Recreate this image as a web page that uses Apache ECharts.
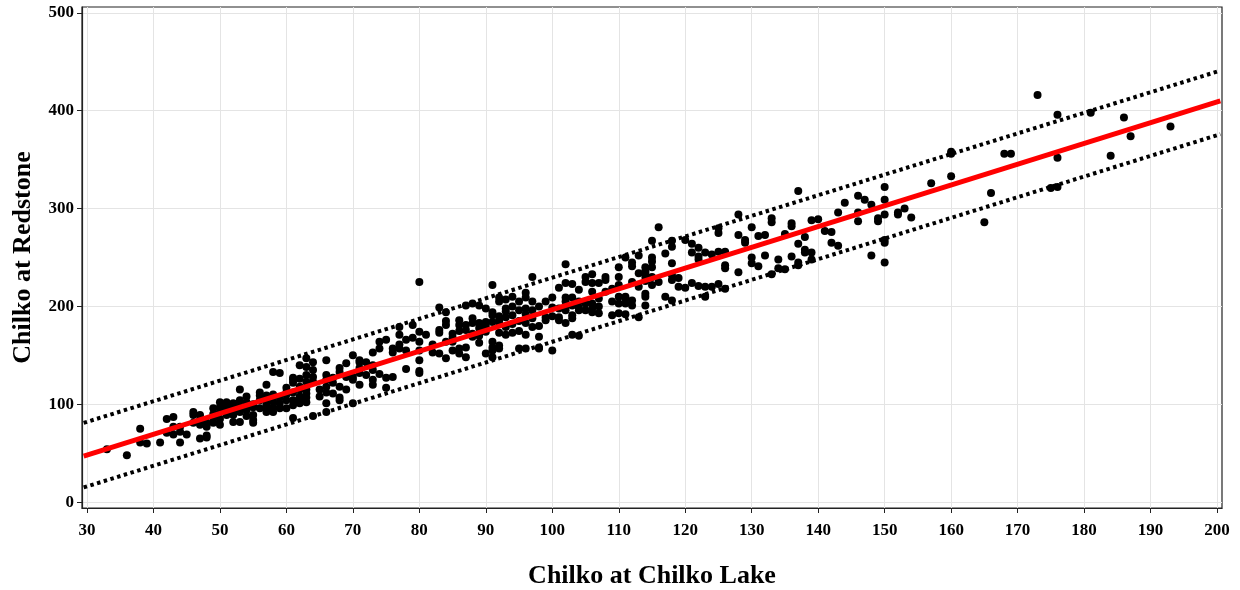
<!DOCTYPE html>
<html>
<head>
<meta charset="utf-8">
<script src="https://cdn.jsdelivr.net/npm/echarts@6/dist/echarts.min.js"></script>
<style>
  html, body { margin: 0; padding: 0; background: #fff; }
  #chart { width: 1240px; height: 590px; }
</style>
</head>
<body>
<div id="chart"></div>
<script>
// observed pairs: [Chilko at Chilko Lake, Chilko at Redstone]
const points = [
  [33,54],[36,48],[38,75],[38,61],[39,60],[41,61],[42,85],[43,87],[43,77],[42,71],[43,69],[44,72],
  [44,61],[44,77],[45,69],[46,92],[46,81],[47,65],[46,89],[47,84],[48,66],[48,68],
  [58,133],[59,132],[61,125],[61,122],[57,120],[53,115],[56,112],[56,109],[60,117],[60,112],[57,109],
  [57,106],[50,102],[51,102],[52,101],[53,104],[54,102],[49,96],[50,97],[50,92],[51,89],[52,89],
  [52,91],[54,96],[54,94],[55,97],[56,96],[57,96],[55,89],[55,84],[58,97],[61,104],[61,99],[53,82],
  [52,82],[49,81],[50,79],[48,81],[48,77],[55,81],[47,89],[61,86],[58,92],[59,96],
  [49,86],[51,95],[53,92],[54,88],[57,100],[58,103],[59,107],[60,110],[55,100],[52,96],[50,85],
  [57,92],[60,96],[62,108],[62,101],
  [60,104],[61,112],[62,115],[62,126],[63,130],[59,101],[58,110],[56,104],[54,108],[53,98],[51,98],
  [49,90],[47,79],
  [70,150],[74,164],[74,157],[75,166],[76,157],[76,153],[73,153],[66,145],[62,140],[63,138],[64,135],
  [69,142],[68,137],[71,143],[71,145],[72,143],[73,140],[73,135],[71,137],[71,132],[61,127],[63,123],
  [64,123],[66,130],[66,125],[67,127],[68,133],[70,128],[70,125],[71,120],[73,125],[73,120],[75,127],
  [76,128],[75,117],[68,118],[69,115],[66,118],[66,112],[67,111],[62,118],[63,115],[63,111],[63,107],
  [63,102],[68,107],[68,104],[70,101],[66,101],[62,104],[64,88],[66,92],
  [65,108],[67,122],[69,128],[72,130],[74,131],[65,115],[64,128],[63,147],[64,143],
  [80,225],[91,222],[83,199],[84,194],[87,201],[88,203],[89,201],[90,198],[91,194],[91,191],[91,184],
  [84,185],[84,181],[86,186],[86,181],[88,188],[88,183],[87,181],[87,176],[89,183],[89,178],[90,184],
  [90,174],[77,179],[79,181],[80,174],[83,176],[83,173],[81,171],[77,171],[78,166],[77,161],[79,168],
  [80,164],[82,161],[84,164],[85,168],[85,164],[86,157],[87,158],[88,169],[89,163],[91,164],[91,158],
  [91,155],[90,152],[91,148],[78,155],[77,157],[80,155],[80,145],[82,153],[83,152],[84,147],[85,155],
  [86,152],[87,148],[78,136],[80,134],[80,132],
  [85,172],[86,175],[88,172],[89,170],[90,180],[92,190],[93,195],[94,200],[95,205],[95,185],[94,182],
  [97,196],[98,200],[99,205],[100,190],[101,198],[98,180],[97,188],[95,175],[96,192],
  [102,243],[97,230],[106,233],[105,230],[103,223],[102,224],[101,219],[104,217],[105,225],[106,224],
  [94,210],[93,207],[96,214],[96,209],[97,205],[92,209],[92,205],[102,209],[102,205],[102,200],[102,196],
  [103,209],[103,201],[104,205],[104,199],[104,196],[105,203],[105,196],[106,203],[106,198],[106,194],
  [100,209],[100,199],[93,198],[95,196],[96,198],[93,189],[94,191],[92,186],[92,184],[99,189],[99,186],
  [101,189],[101,186],[102,183],[103,188],[103,191],[96,183],[97,179],[93,179],[94,173],[93,171],
  [92,173],[96,171],[98,169],[103,171],[104,170],[95,157],[96,157],[98,158],[98,157],[100,155],
  [92,160],[92,157],
  [107,208],[108,215],[109,218],[110,222],[110,230],[112,225],[113,220],[106,215],[107,200],[109,205],
  [116,281],[115,267],[118,267],[118,261],[120,268],[121,264],[117,254],[121,255],[111,250],[112,245],
  [112,241],[113,252],[115,250],[115,246],[114,240],[114,236],[110,240],[108,230],[108,227],[107,224],
  [113,234],[114,234],[114,230],[114,226],[118,244],[118,232],[118,227],[119,229],[119,220],[120,219],
  [121,224],[116,225],[114,213],[114,210],[111,210],[110,210],[110,203],[111,208],[111,203],[112,206],
  [112,201],[117,210],[118,206],[114,201],[107,193],[110,193],[111,192],[113,189],[109,191],[115,240],
  [115,230],[115,222],
  [137,318],[128,294],[133,290],[133,286],[136,285],[136,282],[130,281],[125,280],[125,275],[128,273],
  [131,272],[132,273],[135,274],[129,265],[129,268],[122,260],[123,255],[124,253],[125,256],[126,256],
  [122,248],[122,251],[126,242],[126,239],[128,235],[130,250],[130,244],[131,241],[132,252],[134,248],
  [134,239],[135,238],[136,251],[133,233],[122,221],[123,220],[124,220],[125,223],[126,218],[123,210],
  [143,296],[144,306],[146,313],[147,309],[148,304],[150,322],[150,309],[150,294],[149,290],[149,287],
  [146,296],[146,287],[152,296],[139,288],[140,289],[141,277],[142,276],[142,265],[143,262],[137,264],
  [138,271],[138,258],[138,255],[139,255],[139,248],[137,245],[137,242],[148,252],[150,245],[150,268],
  [150,265],
  [160,358],[160,356],[168,356],[169,356],[176,352],[160,333],[157,326],[166,316],[165,286],[175,321],
  [176,322],[152,294],[153,300],[154,291],
  [173,416],[176,396],[181,398],[186,393],[187,374],[193,384],[184,354]
];

// fitted line and dotted band, read at the plot edges
const fitX = [29.5, 200.5];
const fitY = [47, 410];
const upperY = [81, 441];
const lowerY = [15, 376];

const xTicks = [30, 40, 50, 60, 70, 80, 90, 100, 110, 120, 130, 140, 150, 160, 170, 180, 190, 200];
const yTicks = [0, 100, 200, 300, 400, 500];

const font = 'Liberation Serif';

function pairs (xs, ys) {
  return xs.map((x, i) => [x, ys[i]]);
}

const chart = echarts.init(document.getElementById('chart'));
const axisText = { color: '#000', fontFamily: font, fontWeight: 'bold', fontSize: 17 };

chart.setOption({
  animation: false,
  grid: {
    left: 82, right: 18, top: 7, bottom: 82,
    outerBoundsMode: 'none',
    show: true, borderColor: '#222', borderWidth: 1.2
  },
  xAxis: {
    type: 'value', min: 29.25, max: 200.75,
    name: 'Chilko at Chilko Lake', nameLocation: 'middle', nameGap: 55,
    nameTextStyle: { color: '#000', fontFamily: font, fontWeight: 'bold', fontSize: 26 },
    axisLine: { show: true, onZero: false, lineStyle: { color: '#222', width: 1.2 } },
    axisTick: { show: true, length: 5, customValues: xTicks, lineStyle: { color: '#222' } },
    axisLabel: Object.assign({ margin: 14, customValues: xTicks }, axisText),
    splitLine: { show: true, lineStyle: { color: '#e4e4e4', width: 1 } }
  },
  yAxis: {
    type: 'value', min: -6, max: 506,
    name: 'Chilko at Redstone', nameLocation: 'middle', nameGap: 46, nameRotate: 90,
    nameTextStyle: { color: '#000', fontFamily: font, fontWeight: 'bold', fontSize: 26 },
    axisLine: { show: true, onZero: false, lineStyle: { color: '#222', width: 1.2 } },
    axisTick: { show: true, length: 5, customValues: yTicks, lineStyle: { color: '#222' } },
    axisLabel: Object.assign({ margin: 8, customValues: yTicks }, axisText),
    splitLine: { show: true, lineStyle: { color: '#e4e4e4', width: 1 } }
  },
  series: [
    {
      type: 'line', data: pairs(fitX, upperY), showSymbol: false, z: 1,
      lineStyle: { color: '#000', width: 4, type: [3.5, 3.5], cap: 'butt' }
    },
    {
      type: 'line', data: pairs(fitX, lowerY), showSymbol: false, z: 1,
      lineStyle: { color: '#000', width: 4, type: [3.5, 3.5], cap: 'butt' }
    },
    {
      type: 'scatter', data: points, symbolSize: 8, z: 2,
      itemStyle: { color: '#000', opacity: 1 }
    },
    {
      type: 'line', data: pairs(fitX, fitY), showSymbol: false, z: 3,
      lineStyle: { color: '#ff0000', width: 5 }
    }
  ]
});
window.addEventListener('resize', () => chart.resize());
</script>
</body>
</html>
